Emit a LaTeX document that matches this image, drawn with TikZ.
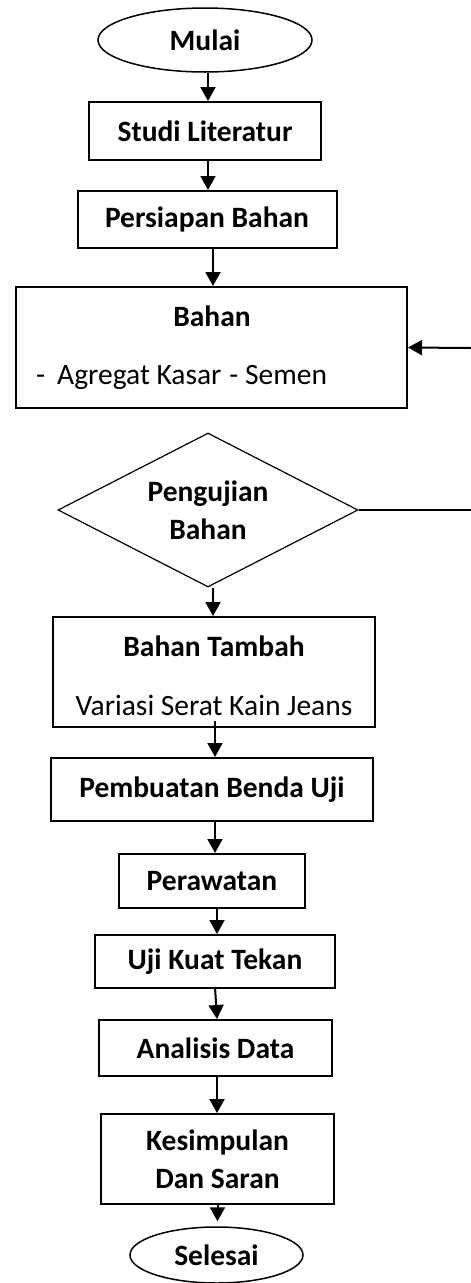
\documentclass[tikz,border=0pt]{standalone}
\usepackage{fontspec}
\setmainfont{Carlito}
\usetikzlibrary{shapes.geometric,arrows.meta}
\begin{document}
\begin{tikzpicture}[x=1pt,y=-1pt,
  txt/.style={font=\fontsize{29.5}{38}\selectfont, inner sep=0pt},
  btxt/.style={font=\fontsize{29.5}{38}\selectfont\bfseries, inner sep=0pt},
  box/.style={draw, line width=2pt, inner sep=0pt, align=center,
              font=\fontsize{29.5}{38}\selectfont\bfseries},
  term/.style={draw, ellipse, line width=1.5pt, inner sep=0pt,
              font=\fontsize{29.5}{38}\selectfont\bfseries},
  decision/.style={draw, diamond, line width=1.2pt, inner sep=0pt, align=center,
              font=\fontsize{29.5}{38}\selectfont\bfseries},
  arr/.style={line width=2pt, -{Triangle[width=15pt,length=14pt]}},
  plain/.style={line width=1.4pt}]
\useasboundingbox (0,0) rectangle (471,1283);

\node[term, minimum width=214pt, minimum height=64pt] (mulai) at (205,40) {\raisebox{-3pt}{Mulai}};
\node[box, minimum width=232pt, minimum height=58pt] (studi) at (205,131) {Studi Literatur};
\node[box, minimum width=259pt, minimum height=57pt] (persiapan) at (207,219.5) {Persiapan Bahan};
\node[box, minimum width=391pt, minimum height=121pt] (bahan) at (211.5,347.5) {};
\node[btxt, anchor=base] (bahanT) at (212,326) {Bahan};
\node[txt, anchor=base west] (bahanL) at (36,384) {-\hspace{12pt}Agregat Kasar\hspace{8pt}- Semen};

\node[decision, minimum width=300pt, minimum height=154pt, aspect=1.95] (uji) at (208,510) {Pengujian\\Bahan};
\coordinate (fbA) at (471,510);
\coordinate (fbB) at (471,348);

\node[box, minimum width=322pt, minimum height=110pt] (tambah) at (214,672) {};
\node[btxt, anchor=base] (tambahT) at (214,656) {Bahan Tambah};
\node[txt, anchor=base] (tambahL) at (214,715) {Variasi Serat Kain Jeans};

\node[box, minimum width=322pt, minimum height=63pt] (pembuatan) at (212,789.5) {Pembuatan Benda Uji};
\node[box, minimum width=186pt, minimum height=54pt] (rawat) at (212,881) {Perawatan};
\node[box, minimum width=240pt, minimum height=53pt] (ujikuat) at (215,961.5) {Uji Kuat Tekan};
\node[box, minimum width=233pt, minimum height=56pt] (analisis) at (215.5,1048) {Analisis Data};
\node[box, minimum width=233pt, minimum height=90pt] (kesimpulan) at (217.5,1159) {Kesimpulan\\Dan Saran};
\node[term, minimum width=173pt, minimum height=56pt] (selesai) at (216.5,1255) {\raisebox{-7pt}{Selesai}};

\draw[arr] ([xshift=3pt]mulai.south) -- ([xshift=3pt]mulai.south |- studi.north);
\draw[arr] ([xshift=3pt]studi.south) -- ([xshift=3pt]studi.south |- persiapan.north);
\draw[arr] ([xshift=6pt]persiapan.south) -- ([xshift=6pt]persiapan.south |- bahan.north);
\draw[arr] ([xshift=5pt]uji.south) -- ([xshift=5pt]uji.south |- tambah.north);
\draw[arr] ([yshift=7pt,xshift=1pt]tambah.south) -- ([xshift=1pt]tambah.south |- pembuatan.north);
\draw[arr] ([xshift=3pt]pembuatan.south) -- ([xshift=3pt]pembuatan.south |- rawat.north);
\draw[arr] ([xshift=5pt]rawat.south) -- ([xshift=5pt]rawat.south |- ujikuat.north);
\draw[arr] ([yshift=2pt]ujikuat.south) -- ([xshift=2pt]ujikuat.south |- analisis.north);
\draw[arr] ([xshift=1.5pt]analisis.south) -- ([xshift=1.5pt]analisis.south |- kesimpulan.north);
\draw[arr] (kesimpulan.south) -- ([yshift=5pt]kesimpulan.south |- selesai.north);

\draw[plain] (uji.east) -- (fbA);
\draw[arr] (fbB) -- (bahan.east);
\end{tikzpicture}
\end{document}
